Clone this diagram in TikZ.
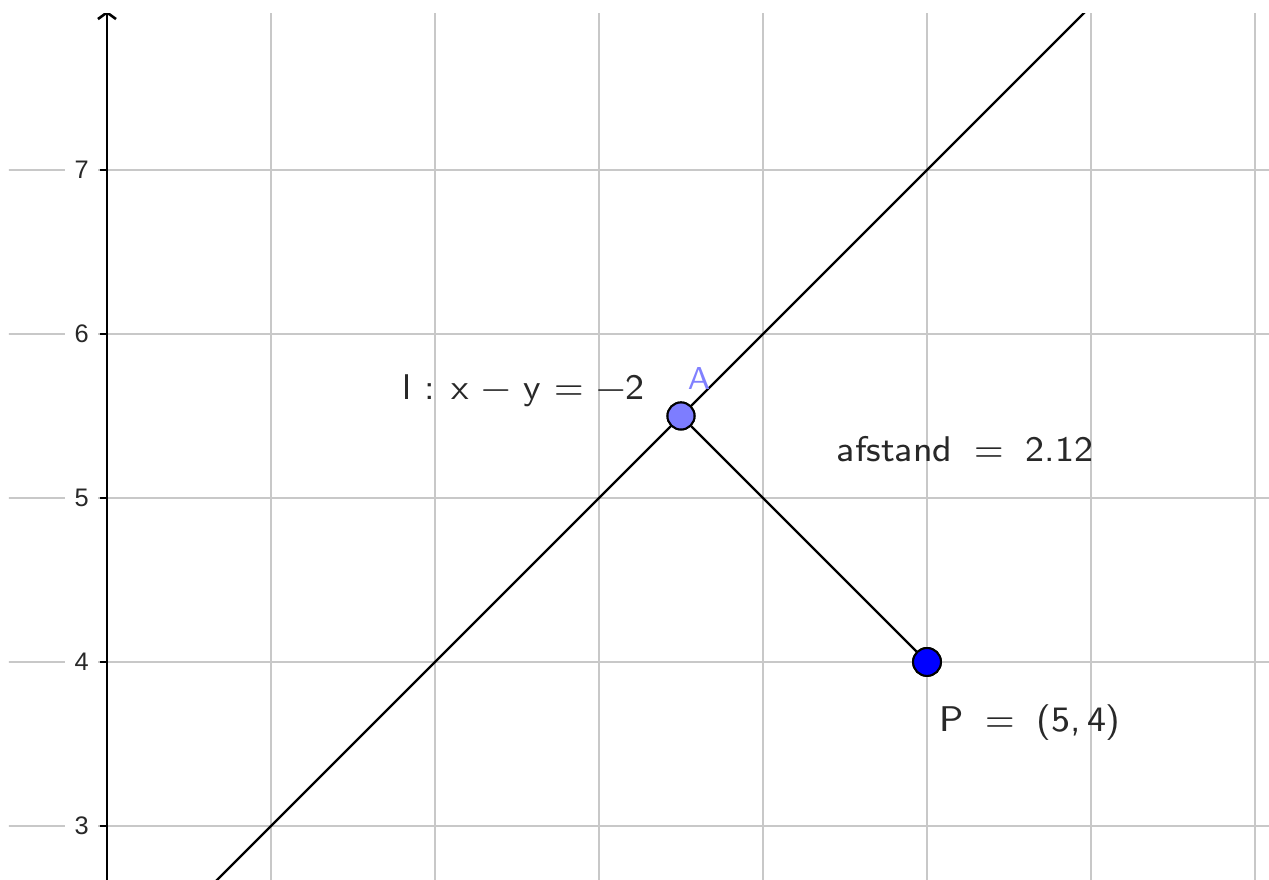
\documentclass[tikz,border=0pt]{standalone}
\usepackage{fontspec}
\newfontfamily\tickfont{Liberation Sans}
\usetikzlibrary{arrows.meta}
\definecolor{gridgray}{RGB}{200,200,200}
\definecolor{ptA}{RGB}{125,125,255}
\definecolor{ptP}{RGB}{0,0,255}
\definecolor{lblA}{RGB}{128,128,255}
\definecolor{txt}{RGB}{40,40,40}
\tikzset{
  gridline/.style={draw=gridgray, line width=0.36pt},
  axisline/.style={draw=black, line width=0.45pt},
  figline/.style={draw=black, line width=0.38pt},
  ticklabel/.style={fill=white, inner sep=0pt, minimum width=0.2cm, minimum height=0.14cm, font=\tickfont\fontsize{4.4}{5}\selectfont, text=txt},
  pointA/.style={circle, draw=black, line width=0.35pt, fill=ptA, minimum size=0.165cm, inner sep=0pt},
  pointP/.style={circle, draw=black, line width=0.35pt, fill=ptP, minimum size=0.17cm, inner sep=0pt},
  lbl/.style={font=\sffamily\fontsize{6.2}{7}\selectfont, text=txt, inner sep=0pt, anchor=base},
}
\newcommand{\mns}{\symbol{"2212}}
\newcommand{\eqs}{\hspace{3.8pt}=\hspace{3.8pt}}
\begin{document}
\begin{tikzpicture}[x=1cm,y=1cm]
\useasboundingbox (-0.6524,2.6707) rectangle (7.0854,8.0366);
\begin{scope}
\clip (-0.5976,2.6707) rectangle (7.0854,7.957);
% grid
\foreach \gx in {1,...,7} \draw[gridline] (\gx,2.6) -- (\gx,8.1);
\foreach \gy in {3,...,7} \draw[gridline] (-0.7,\gy) -- (7.2,\gy);
% tick labels
\foreach \gy in {3,...,7} {
  \node[ticklabel] (t\gy) at (-0.155,\gy) {\gy};
  \draw[axisline] (-0.043,\gy) -- (0,\gy);
}
% y-axis
\coordinate (yb) at (0,2.6);
\coordinate (yt) at (0,7.97);
\draw[axisline, -{Straight Barb[length=0.04cm,width=0.11cm]}] (yb) -- (yt);
% line l: y = x + 2
\coordinate (l1) at (0.5,2.5);
\coordinate (l2) at (6.2,8.2);
\draw[figline] (l1) -- (l2);
\end{scope}
% points
\node[pointA] (A) at (3.5,5.5) {};
\node[pointP] (P) at (5,4) {};
\draw[figline] (A) -- (P);
\node[pointA] at (A) {};
\node[pointP] at (P) {};
% labels
\node[lbl] (ll) at (2.54,5.598) {l : x \mns\ y = \mns2};
\node[lbl, text=lblA, font=\sffamily\fontsize{5.5}{6}\selectfont] (la) at (3.61,5.659) {A};
\node[lbl] (ld) at (5.232,5.2195) {afstand\eqs 2.12};
\node[lbl] (lp) at (5.628,3.573) {P\eqs (5,\,4)};
\end{tikzpicture}
\end{document}
